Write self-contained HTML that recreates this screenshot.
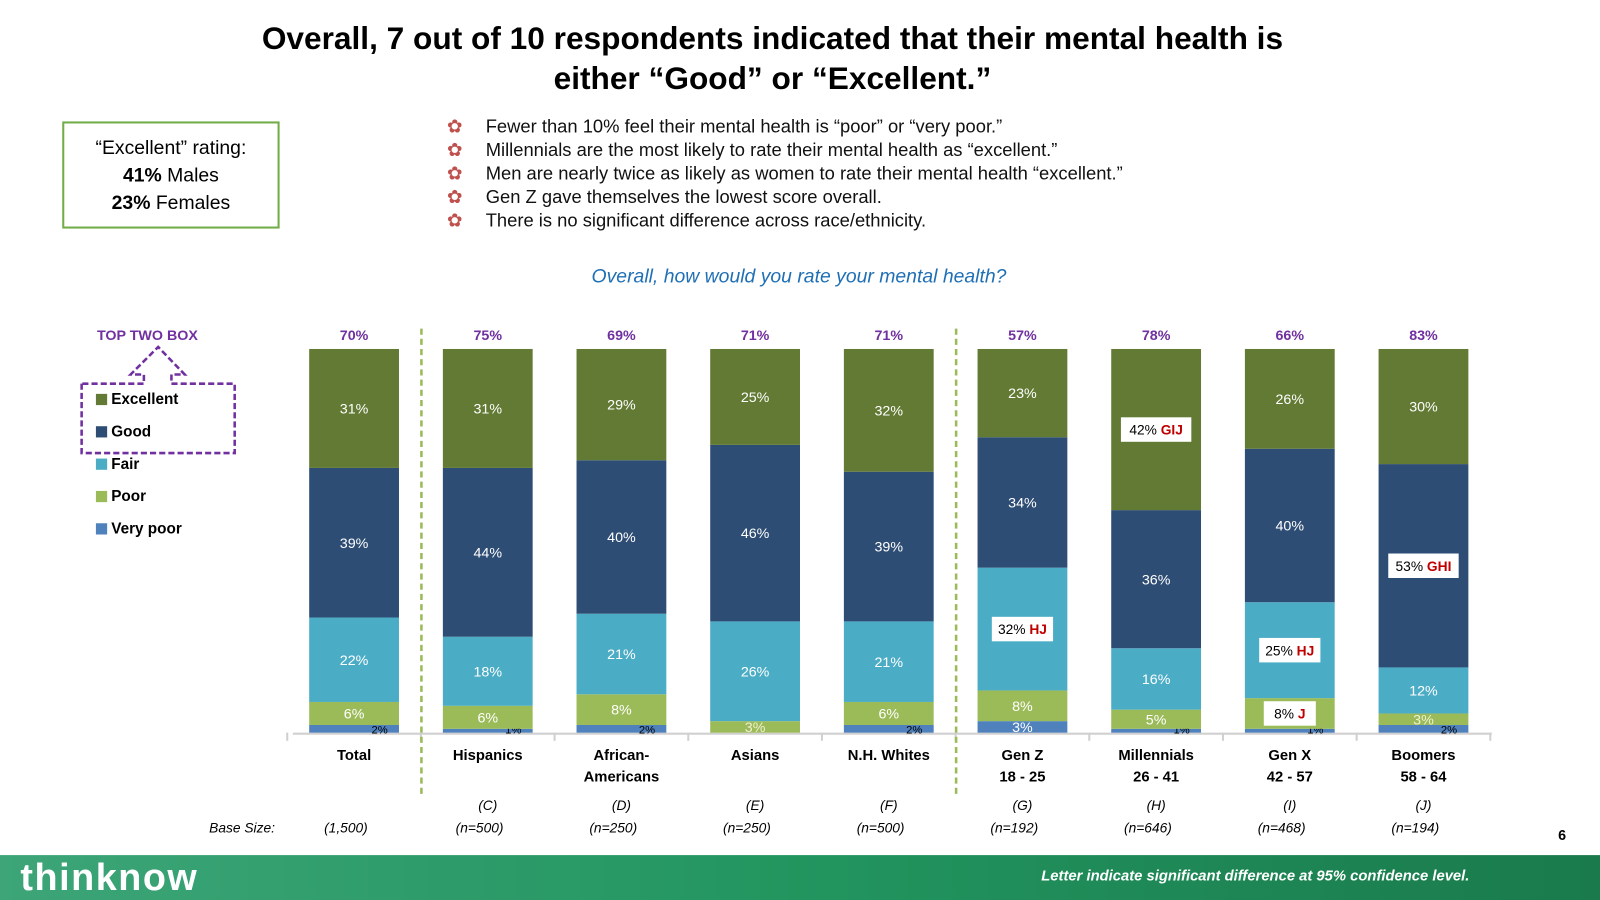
<!DOCTYPE html>
<html><head><meta charset="utf-8"><style>
html,body{margin:0;padding:0;background:#fff;}
body{width:1600px;height:900px;overflow:hidden;font-family:"Liberation Sans",sans-serif;}
#wrap{position:absolute;left:0;top:0;width:1568px;height:882px;transform:scale(1.020408);transform-origin:0 0;}
.abs{position:absolute;}
</style></head><body>
<div id="wrap">
<div class="abs" style="left:157px;top:18px;width:1200px;text-align:center;font-weight:bold;font-size:31px;line-height:39px;color:#000;">Overall, 7 out of 10 respondents indicated that their mental health is<br>either “Good” or “Excellent.”</div>
<div class="abs" style="left:61px;top:119px;text-align:center;font-size:19px;line-height:27px;padding-top:11px;box-sizing:border-box;width:213px;height:105px;border:2px solid #70ad47;">“Excellent” rating:<br><b>41%</b> Males<br><b>23%</b> Females</div>
<div class="abs" style="left:438px;top:113px;font-size:18px;line-height:23px;color:#111;">
<div><span style="color:#c0504d;display:inline-block;width:38px;">✿</span>Fewer than 10% feel their mental health is “poor” or “very poor.”</div>
<div><span style="color:#c0504d;display:inline-block;width:38px;">✿</span>Millennials are the most likely to rate their mental health as “excellent.”</div>
<div><span style="color:#c0504d;display:inline-block;width:38px;">✿</span>Men are nearly twice as likely as women to rate their mental health “excellent.”</div>
<div><span style="color:#c0504d;display:inline-block;width:38px;">✿</span>Gen Z gave themselves the lowest score overall.</div>
<div><span style="color:#c0504d;display:inline-block;width:38px;">✿</span>There is no significant difference across race/ethnicity.</div>
</div>
<div class="abs" style="left:483px;top:261px;width:600px;text-align:center;font-style:italic;font-size:19px;color:#1f6fb5;">Overall, how would you rate your mental health?</div>
<svg class="abs" style="left:0;top:0" width="1568" height="882" id="chart"></svg>
<div class="abs" style="left:0;top:838px;width:1568px;height:44px;background:linear-gradient(90deg,#3da578,#22955f 50%,#1a7a4c);"></div>
<div class="abs" style="left:20px;top:838px;height:44px;line-height:44px;color:#fff;font-weight:bold;font-size:37px;letter-spacing:1.5px;">thinknow</div>
<div class="abs" style="left:840px;top:851px;width:600px;text-align:right;color:#fff;font-weight:bold;font-style:italic;font-size:14.5px;">Letter indicate significant difference at 95% confidence level.</div>
<div class="abs" style="left:1527px;top:810px;font-weight:bold;font-size:14px;">6</div>
</div>
<script>
const categories=["Total","Hispanics","African-|Americans","Asians","N.H. Whites","Gen Z|18 - 25","Millennials|26 - 41","Gen X|42 - 57","Boomers|58 - 64"];
const letters=["","(C)","(D)","(E)","(F)","(G)","(H)","(I)","(J)"];
const bases=["(1,500)","(n=500)","(n=250)","(n=250)","(n=500)","(n=192)","(n=646)","(n=468)","(n=194)"];
const veryPoor=[2,1,2,0,2,3,1,1,2];
const poor=[6,6,8,3,6,8,5,8,3];
const fair=[22,18,21,26,21,32,16,25,12];
const good=[39,44,40,46,39,34,36,40,53];
const excellent=[31,31,29,25,32,23,42,26,30];
const topTwo=["70%","75%","69%","71%","71%","57%","78%","66%","83%"];
const sigLetters={"6-4":"GIJ","5-2":"HJ","7-2":"HJ","7-1":"J","8-3":"GHI"};
const seriesNames=["Very poor","Poor","Fair","Good","Excellent"];
const colors=["#4f81bd","#9bbb59","#4bacc6","#2e4d74","#627a33"];

const NS="http://www.w3.org/2000/svg";
const svg=document.getElementById('chart');
const base=718, plotH=376, x0=303, step=131, bw=88;
const xS=i=>x0+i*step;
const yS=v=>v/100*plotH;
function mk(t,a,txt){const e=document.createElementNS(NS,t);for(const k in a)e.setAttribute(k,a[k]);if(txt!==undefined)e.textContent=txt;svg.appendChild(e);return e;}
const series=[veryPoor,poor,fair,good,excellent];
let ax=mk('line',{x1:287,y1:base+1,x2:1462,y2:base+1,stroke:'#d0d0d0','stroke-width':2});

for(let i=0;i<=9;i++){let t=mk('line',{x1:xS(i)-21.5,y1:base,x2:xS(i)-21.5,y2:base+8,stroke:'#d0d0d0','stroke-width':2});
}
[413,937].forEach(x=>{let d=mk('line',{x1:x,y1:322,x2:x,y2:778,stroke:'#9bbb59','stroke-width':2.5,'stroke-dasharray':'6,4'});
});
categories.forEach((c,i)=>{
  let cum=0;const cx=xS(i)+bw/2;
  series.forEach((s,k)=>{
    const v=s[i];const h=yS(v);const y=base-yS(cum)-h;
    if(v>0){let r=mk('rect',{x:xS(i),y:y,width:bw,height:h,fill:colors[k]});
      
      }
    const sig=sigLetters[i+'-'+k];
    if(v>0){
      if(sig){
        const w=sig.length*9+42;
        let bx=mk('rect',{x:cx-w/2,y:y+h/2-12,width:w,height:24,fill:'#fff'});
        
        let t=mk('text',{x:cx,y:y+h/2+5,'text-anchor':'middle','font-size':13.5,fill:'#000'});
        
        t.innerHTML=v+'% <tspan fill="#c00000" font-weight="bold">'+sig+'</tspan>';
      } else if(k==0 && v<3){
        let t=mk('text',{x:cx+25,y:base+1,'text-anchor':'middle','font-size':11,fill:'#000'},v+'%');
        
      } else {
        let t=mk('text',{x:cx,y:y+h/2+5,'text-anchor':'middle','font-size':14,fill:(k==1&&v<5)?'#f0f0d0':'#fff'},v+'%');
        
      }
    }
    cum+=v;
  });
  let tt=mk('text',{x:cx,y:333,'text-anchor':'middle','font-size':14,'font-weight':'bold',fill:'#7030a0'},topTwo[i]);
  
  c.split('|').forEach((ln,j)=>{let t=mk('text',{x:cx,y:745+j*21,'text-anchor':'middle','font-size':14.5,'font-weight':'bold',fill:'#000'},ln);
    });
  if(letters[i]){let t=mk('text',{x:cx,y:794,'text-anchor':'middle','font-size':13.5,'font-style':'italic',fill:'#000'},letters[i]);
    }
  let b=mk('text',{x:cx-8,y:816,'text-anchor':'middle','font-size':13.5,'font-style':'italic',fill:'#000'},bases[i]);
  
});
let bl=mk('text',{x:205,y:816,'font-size':13.5,'font-style':'italic',fill:'#000'},'Base Size:');

let ttb=mk('text',{x:95,y:333,'font-size':14,'font-weight':'bold',fill:'#7030a0'},'TOP TWO BOX');

let ar=mk('path',{d:'M80,376 L80,444 L230,444 L230,376 L168,376 L168,367 L181,367 L155,340 L128,367 L141,367 L141,376 Z',fill:'none',stroke:'#7030a0','stroke-width':2.5,'stroke-dasharray':'6,3'});

[4,3,2,1,0].forEach((k,j)=>{const y=391+j*31.7;
  let r=mk('rect',{x:94,y:y-5,width:11,height:11,fill:colors[k]});
  
  let t=mk('text',{x:109,y:y+5,'font-size':15,fill:'#000','font-weight':'bold'},seriesNames[k]);
  });
</script>
</body></html>
